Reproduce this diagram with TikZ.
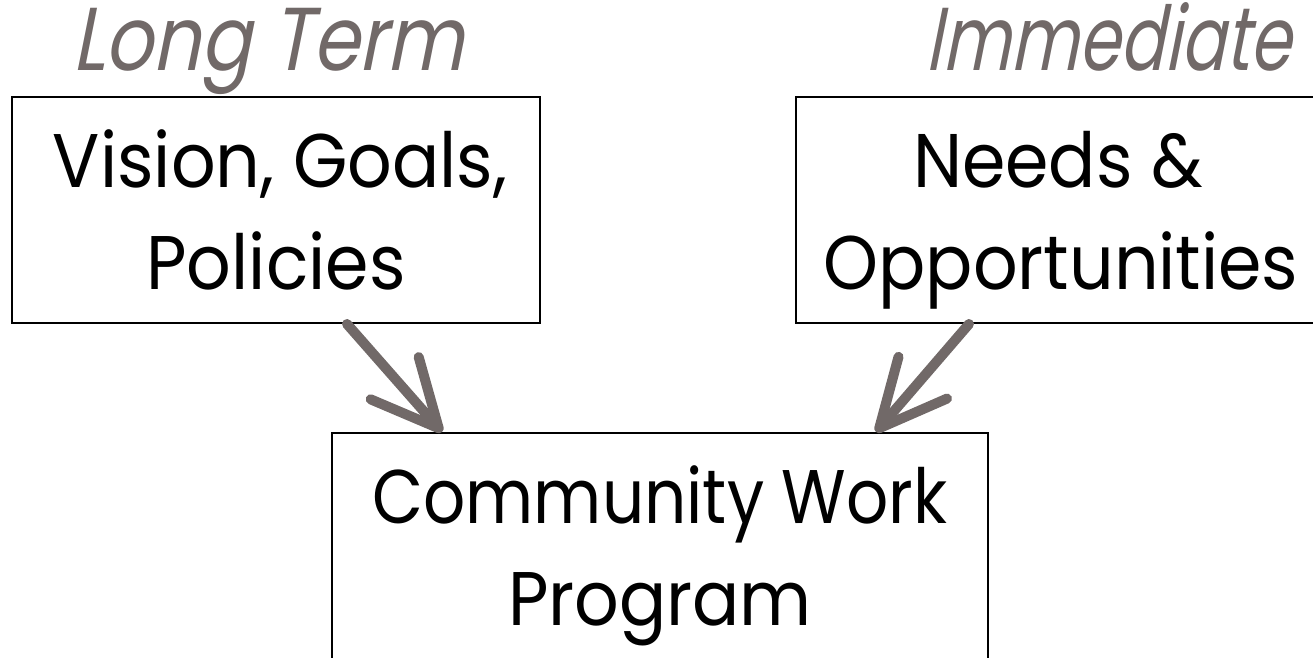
\documentclass[tikz,border=0pt]{standalone}
\usepackage{fontspec}
\setmainfont[FakeStretch=0.92]{Poppins}
\newfontfamily\narrowfont[FakeStretch=0.87]{Poppins}
\newfontfamily\slantfont[FakeSlant=0.2,FakeStretch=0.84]{Poppins}
\newfontfamily\slantnarrow[FakeSlant=0.2,FakeStretch=0.74]{Poppins}
\usetikzlibrary{arrows.meta}
\definecolor{warmgray}{RGB}{113,105,104}
\begin{document}
\begin{tikzpicture}[x=0.75pt,y=-0.75pt,
  frame/.style={draw=black,line width=1.5pt,inner sep=0pt,rectangle},
  boxtext/.style={anchor=base,inner sep=0pt,font=\fontsize{57}{60}\selectfont},
  heading/.style={anchor=base,inner sep=0pt,text=warmgray,font=\fontsize{67}{70}\slantfont},
  flow/.style={draw=warmgray,line width=7.5pt,line cap=round,
    -{Straight Barb[length=50pt,width=48pt,round]}}]
\useasboundingbox (0,0) rectangle (1313,657);
\clip (0,0) rectangle (1313,657);

% headings
\node[heading] (lt) at (268,70) {Long Term};
\node[heading,font=\fontsize{67}{70}\slantnarrow] (im) at (1108,70) {Immediate};

% boxes
\node[frame,minimum width=396pt,minimum height=169.5pt] (vg) at (276,210) {};
\node[frame,minimum width=396pt,minimum height=169.5pt] (no) at (1060,210) {};
\node[frame,minimum width=492pt,minimum height=195pt] (cw) at (660,563) {};

% box texts
\node[boxtext] (vg1) at (280,187) {Vision, Goals,};
\node[boxtext] (vg2) at (276,289) {Policies};
\node[boxtext] (no1) at (1058,187) {Needs \&};
\node[boxtext] (no2) at (1061,289) {Opportunities};
\node[boxtext,font=\fontsize{57}{60}\narrowfont] (cw1) at (660,523) {Community Work};
\node[boxtext] (cw2) at (660,625) {Program};

% arrows into the program box
\draw[flow] ([xshift=252pt]vg.south west) -- ([xshift=83.25pt]cw.north west);
\draw[flow] ([xshift=130.5pt]no.south west) -- ([xshift=408.75pt]cw.north west);
\end{tikzpicture}
\end{document}
